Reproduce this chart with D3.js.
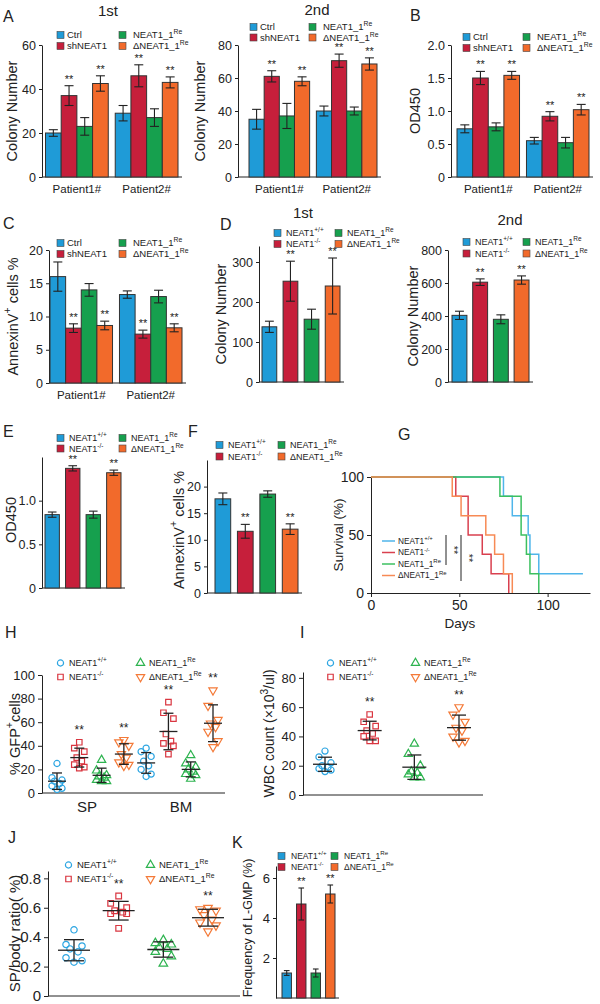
<!DOCTYPE html>
<html><head><meta charset="utf-8">
<script src="https://cdn.jsdelivr.net/npm/d3@7"></script>
<style>
body{margin:0;background:#fff}
svg{font-family:"Liberation Sans",Arial,sans-serif}
</style></head><body>
<svg id="fig" width="600" height="1004"></svg>
<script>
// ---------- data ----------
const patients = ['Patient1#', 'Patient2#'];
const shGroups = ['Ctrl', 'shNEAT1', 'NEAT1_1^{Re}', 'ΔNEAT1_1^{Re}'];
const koGroups = ['NEAT1^{+/+}', 'NEAT1^{-/-}', 'NEAT1_1^{Re}', 'ΔNEAT1_1^{Re}'];

const colony1stMean = [[20, 37, 23, 42.5], [29, 46, 27, 43]];
const colony1stErr = [[1.5, 4.5, 4, 3.5], [3.5, 5, 4, 2.5]];
const colony2ndMean = [[35, 61, 37, 58], [40, 70.5, 40, 68.5]];
const colony2ndErr = [[6, 3.4, 7.6, 2.7], [3, 4, 2.4, 3.7]];
const odMean = [[0.73, 1.5, 0.76, 1.54], [0.55, 0.92, 0.52, 1.02]];
const odErr = [[0.06, 0.1, 0.06, 0.06], [0.05, 0.07, 0.08, 0.08]];
const annexinMean = [[16, 8.25, 14, 8.65], [13.3, 7.35, 13, 8.3]];
const annexinErr = [[2.2, 0.65, 0.95, 0.65], [0.55, 0.6, 0.95, 0.6]];
const sigPatient = [[false, true, false, true], [false, true, false, true]];

const koColony1stMean = [138, 252, 157, 240];
const koColony1stErr = [14, 50, 25, 70];
const koColony2ndMean = [404, 605, 380, 618];
const koColony2ndErr = [25, 20, 27, 25];
const koOdMean = [0.84, 1.37, 0.84, 1.32];
const koOdErr = [0.03, 0.03, 0.04, 0.03];
const koAnnexinMean = [17.7, 11.6, 18.6, 12.0];
const koAnnexinErr = [1.1, 1.3, 0.6, 1.0];
const lgmpMean = [1.25, 4.7, 1.25, 5.2];
const lgmpErr = [0.12, 0.8, 0.2, 0.45];
const sigKo = [false, true, false, true];

// survival steps: [day, % surviving after that day]
const survWT = [[0, 100], [75, 83.3], [80, 66.7], [89, 50], [90, 33.3], [95, 16.7], [120, 16.7]];
const survKO = [[0, 100], [48, 83.3], [55, 50], [63, 33.3], [68, 16.7], [78, 0]];
const survRe = [[0, 100], [73, 83.3], [85, 50], [88, 33.3], [90, 16.7], [95, 0]];
const survDelta = [[0, 100], [46, 83.3], [51, 66.7], [65, 50], [70, 33.3], [75, 16.7], [80, 0]];
const survTicks = [0, 50, 100];

const gfpSP = [
  [25, 13, 11, 10, 8, 6, 4, 3],
  [43, 38, 35, 30, 27, 24, 22, 21],
  [28, 19, 15, 14, 13, 11, 10, 10],
  [45, 43, 40, 33, 30, 26, 24, 23]
];
const gfpBM = [
  [38, 35, 31, 27, 23, 20, 16, 14],
  [77, 68, 63, 50, 44, 42, 40, 33],
  [32, 25, 22, 20, 18, 16, 15, 12],
  [87, 74, 62, 59, 56, 52, 44, 39]
];
const wbc = [
  [30, 26, 22, 20, 19, 18, 17, 16],
  [55, 50, 47, 44, 42, 40, 37, 37],
  [35, 28, 20, 16, 15, 14, 12, 12],
  [60, 55, 50, 46, 44, 40, 36, 37]
];
const spRatio = [
  [0.45, 0.35, 0.34, 0.32, 0.30, 0.26, 0.24, 0.23],
  [0.68, 0.63, 0.60, 0.58, 0.57, 0.56, 0.56, 0.46],
  [0.38, 0.36, 0.35, 0.33, 0.32, 0.30, 0.27, 0.22],
  [0.60, 0.59, 0.58, 0.55, 0.52, 0.50, 0.48, 0.44]
];

// ---------- style ----------
const barColors = ['#1f9bd7', '#c61f3b', '#16a04e', '#f26a2b'];
const dotColors = ['#2ea6e2', '#d93640', '#2db34f', '#f47a38'];
const lineColors = ['#4fb5ea', '#d9404f', '#3cc060', '#f78a55'];
const shapes = [d3.symbolCircle, d3.symbolSquare, d3.symbolTriangle, d3.symbolTriangle];
const ink = '#222';
const svg = d3.select('#fig');

function rich(t, str, fs) {
  const parts = str.split(/(\^\{[^}]*\})/).filter(s => s);
  let up = 0;
  parts.forEach(p => {
    const sup = p.startsWith('^{');
    const s = t.append('tspan').text(sup ? p.slice(2, -1) : p);
    if (sup) { s.attr('font-size', fs * 0.72).attr('dy', -fs * 0.45); up = fs * 0.45; }
    else if (up) { s.attr('dy', up); up = 0; }
  });
  return t;
}

function text(x, y, str, fs, anchor, rotate) {
  const t = svg.append('text').attr('font-size', fs).attr('fill', ink)
    .attr('text-anchor', anchor || 'start');
  if (rotate) t.attr('transform', `translate(${x},${y}) rotate(${rotate})`);
  else t.attr('x', x).attr('y', y);
  return rich(t, str, fs);
}

function leftAxis(x0, y, ticks, fmt, fs, tick) {
  const ax = svg.append('g').attr('transform', `translate(${x0},0)`)
    .call(d3.axisLeft(y).tickValues(ticks).tickFormat(fmt).tickSize(tick || 3).tickSizeOuter(0));
  ax.attr('font-family', null).attr('font-size', fs);
  ax.select('.domain').attr('stroke', ink);
  ax.selectAll('.tick line').attr('stroke', ink);
  ax.selectAll('.tick text').attr('fill', ink);
  return ax;
}

function baseLine(x0, x1, yv) {
  svg.append('line').attr('x1', x0).attr('x2', x1).attr('y1', yv).attr('y2', yv)
    .attr('stroke', ink).attr('stroke-width', 1);
}

function legend(x, y, labels, opt) {
  labels.forEach((lab, i) => {
    const col = Math.floor(i / 2), row = i % 2;
    const lx = x + col * opt.colGap, ly = y + row * opt.rowGap;
    if (opt.kind === 'box') {
      svg.append('rect').attr('x', lx).attr('y', ly - 3.5).attr('width', 7).attr('height', 7)
        .attr('fill', barColors[i]).attr('stroke', '#444').attr('stroke-width', 0.6);
    } else {
      symbol(lx + 3.5, ly, i, opt.sym || 34);
    }
    text(lx + opt.textGap + (col ? opt.col2Extra || 0 : 0), ly + opt.fs * 0.36, lab, opt.fs);
  });
}

function legendColumn(x, y, labels, opt) {
  labels.forEach((lab, i) => {
    const ly = y + i * opt.rowGap;
    svg.append('line').attr('x1', x).attr('x2', x + 13).attr('y1', ly).attr('y2', ly)
      .attr('stroke', lineColors[i]).attr('stroke-width', 1.5);
    text(x + 16, ly + opt.fs * 0.36, lab, opt.fs);
  });
}

function symbol(cx, cy, i, size) {
  svg.append('path').attr('d', d3.symbol(shapes[i], size)())
    .attr('transform', `translate(${cx},${cy}) rotate(${i === 3 ? 180 : 0})`)
    .attr('fill', 'none').attr('stroke', dotColors[i]).attr('stroke-width', 1.2);
}

function bars(items, y, bw) {
  items.forEach(d => {
    svg.append('rect').attr('x', d.x).attr('y', y(d.m)).attr('width', bw)
      .attr('height', y(0) - y(d.m)).attr('fill', barColors[d.c])
      .attr('stroke', '#333').attr('stroke-width', 1);
    const cx = d.x + bw / 2, cap = Math.min(bw * 0.3, 4.5);
    const top = y(d.m + d.e), bot = y(d.m - d.e);
    const eb = svg.append('g').attr('stroke', ink).attr('stroke-width', 1.1);
    eb.append('line').attr('x1', cx).attr('x2', cx).attr('y1', top).attr('y2', bot);
    eb.append('line').attr('x1', cx - cap).attr('x2', cx + cap).attr('y1', top).attr('y2', top);
    eb.append('line').attr('x1', cx - cap).attr('x2', cx + cap).attr('y1', bot).attr('y2', bot);
    if (d.s) text(cx, top - 3, '**', 11, 'middle');
  });
}

function patientBars(p) {
  const y = d3.scaleLinear().domain(p.domain).range([p.y0, p.y1]);
  const xo = d3.scaleBand().domain(patients).range([p.bx0, p.bx1]).paddingInner(p.gap);
  const xi = d3.scaleBand().domain(d3.range(4)).range([0, xo.bandwidth()]);
  leftAxis(p.ax, y, p.ticks, p.fmt, p.fs);
  baseLine(p.ax, p.bx1 + 4, y(0));
  const items = patients.flatMap((pt, pi) => d3.range(4).map(ci => ({
    x: xo(pt) + xi(ci), m: p.mean[pi][ci], e: p.err[pi][ci], c: ci, s: sigPatient[pi][ci]
  })));
  bars(items, y, xi.bandwidth());
  patients.forEach(pt => text(xo(pt) + xo.bandwidth() / 2, y(0) + 16, pt, 11.5, 'middle'));
  text(p.lx, (p.y0 + p.y1) / 2, p.label, 14.5, 'middle', -90);
}

function koBars(p) {
  const y = d3.scaleLinear().domain(p.domain).range([p.y0, p.y1]);
  const x = d3.scaleBand().domain(d3.range(4)).range([p.bx0, p.bx1]).paddingInner(p.pad);
  leftAxis(p.ax, y, p.ticks, p.fmt, p.fs);
  baseLine(p.ax, p.bx1 + 4, y(0));
  const items = d3.range(4).map(ci => ({ x: x(ci), m: p.mean[ci], e: p.err[ci], c: ci, s: sigKo[ci] }));
  bars(items, y, x.bandwidth());
  text(p.lx, p.ly || (p.y0 + p.y1) / 2, p.label, p.lfs || 14.5, 'middle', -90);
}

function scatter(p) {
  const y = d3.scaleLinear().domain(p.domain).range([p.y0, p.y1]);
  const x = d3.scalePoint().domain(d3.range(p.sets.length)).range([p.gx0, p.gx1]);
  leftAxis(p.ax, y, p.ticks, p.fmt, p.fs, 4);
  baseLine(p.ax, p.axEnd, y(p.domain[0]));
  const jitter = [0, -1, 1, -0.5, 0.5, -1, 1, 0];
  p.sets.forEach((vals, gi) => {
    const ci = gi % 4, cx = x(gi);
    const order = d3.range(vals.length).sort((a, b) => vals[b] - vals[a]);
    order.forEach((vi, rank) => symbol(cx + jitter[rank] * p.spread, y(vals[vi]), ci, p.sym));
    const m = d3.mean(vals), sd = d3.deviation(vals);
    const g = svg.append('g').attr('stroke', ink).attr('stroke-width', 1.3);
    g.append('line').attr('x1', cx - p.meanW).attr('x2', cx + p.meanW).attr('y1', y(m)).attr('y2', y(m));
    g.append('line').attr('x1', cx).attr('x2', cx).attr('y1', y(m + sd)).attr('y2', y(m - sd));
    [m + sd, m - sd].forEach(v => g.append('line').attr('x1', cx - p.capW).attr('x2', cx + p.capW)
      .attr('y1', y(v)).attr('y2', y(v)));
    if (ci === 1 || ci === 3) text(cx, y(d3.max(vals)) - 8, '**', 12, 'middle');
  });
  text(p.lx, (p.y0 + p.y1) / 2, p.label, p.lfs, 'middle', -90);
}

const fmt1 = d => d === 0 ? '0' : d3.format('.1f')(d);
const fmtInt = d3.format('d');

// ---------- panel A ----------
text(3, 22, 'A', 16);
text(108, 16, '1st', 15, 'middle');
legend(57, 35, shGroups, { kind: 'box', colGap: 62, rowGap: 11, textGap: 10, col2Extra: 4, fs: 9.5 });
patientBars({ domain: [0, 60], y0: 177, y1: 45, ax: 42, bx0: 45.5, bx1: 178, gap: 0.1,
  ticks: [0, 20, 40, 60], fmt: fmtInt, fs: 12.5, mean: colony1stMean, err: colony1stErr,
  label: 'Colony Number', lx: 17 });

text(317, 15, '2nd', 15, 'middle');
legend(250, 27, shGroups, { kind: 'box', colGap: 59, rowGap: 10.5, textGap: 10, col2Extra: 4, fs: 9.5 });
patientBars({ domain: [0, 80], y0: 177, y1: 45, ax: 238, bx0: 249, bx1: 377, gap: 0.1,
  ticks: [0, 20, 40, 60, 80], fmt: fmtInt, fs: 12.5, mean: colony2ndMean, err: colony2ndErr,
  label: 'Colony Number', lx: 205 });

// ---------- panel B ----------
text(410, 21, 'B', 16);
legend(463, 37, shGroups, { kind: 'box', colGap: 60, rowGap: 11, textGap: 10, col2Extra: 4, fs: 9.5 });
patientBars({ domain: [0, 2], y0: 177, y1: 45, ax: 451, bx0: 457, bx1: 589, gap: 0.1,
  ticks: [0, 0.5, 1, 1.5, 2], fmt: fmt1, fs: 12.5, mean: odMean, err: odErr,
  label: 'OD450', lx: 420 });

// ---------- panel C ----------
text(3, 229, 'C', 16);
legend(57, 243, shGroups, { kind: 'box', colGap: 62, rowGap: 11, textGap: 10, col2Extra: 4, fs: 9.5 });
patientBars({ domain: [0, 20], y0: 383, y1: 250, ax: 49, bx0: 50, bx1: 182, gap: 0.1,
  ticks: [0, 5, 10, 15, 20], fmt: fmtInt, fs: 12.5, mean: annexinMean, err: annexinErr,
  label: 'AnnexinV^{+} cells %', lx: 18 });

// ---------- panel D ----------
text(220, 230, 'D', 16);
text(303, 218, '1st', 15, 'middle');
legend(274, 233, koGroups, { kind: 'box', colGap: 61, rowGap: 11, textGap: 12, fs: 9 });
koBars({ domain: [0, 340], y0: 382, y1: 246, ax: 259, bx0: 262, bx1: 340, pad: 0.3,
  ticks: [0, 100, 200, 300], fmt: fmtInt, fs: 12.5, mean: koColony1stMean, err: koColony1stErr,
  label: 'Colony Number', lx: 226 });

text(510, 225, '2nd', 15, 'middle');
legend(463, 242, koGroups, { kind: 'box', colGap: 60, rowGap: 11.5, textGap: 12, fs: 9 });
koBars({ domain: [0, 800], y0: 382, y1: 250, ax: 448, bx0: 452, bx1: 529, pad: 0.28,
  ticks: [0, 200, 400, 600, 800], fmt: fmtInt, fs: 12.5, mean: koColony2ndMean, err: koColony2ndErr,
  label: 'Colony Number', lx: 418 });

// ---------- panel E ----------
text(3, 437, 'E', 16);
legend(57, 438, koGroups, { kind: 'box', colGap: 62, rowGap: 10.5, textGap: 12, fs: 9 });
koBars({ domain: [0, 1.5], y0: 588, y1: 457, ax: 42, bx0: 45, bx1: 121, pad: 0.3,
  ticks: [0, 0.5, 1], fmt: fmt1, fs: 12.5, mean: koOdMean, err: koOdErr,
  label: 'OD450', lx: 16, ly: 520 });

// ---------- panel F ----------
text(188, 437, 'F', 16);
legend(216, 445, koGroups, { kind: 'box', colGap: 62, rowGap: 11.5, textGap: 12, fs: 9 });
koBars({ domain: [0, 25], y0: 593, y1: 460, ax: 207, bx0: 215, bx1: 298, pad: 0.3,
  ticks: [0, 5, 10, 15, 20], fmt: fmtInt, fs: 12.5, mean: koAnnexinMean, err: koAnnexinErr,
  label: 'AnnexinV^{+} cells %', lx: 184, ly: 530 });

// ---------- panel G ----------
text(398, 440, 'G', 16);
{
  const x = d3.scaleLinear().domain([0, 124]).range([371, 590]);
  const y = d3.scaleLinear().domain([0, 100]).range([593, 477]);
  leftAxis(371, y, survTicks, fmtInt, 14, 4);
  const bx = svg.append('g').attr('transform', 'translate(0,593)')
    .call(d3.axisBottom(x).tickValues(survTicks).tickFormat(fmtInt).tickSize(4).tickSizeOuter(0));
  bx.attr('font-family', null).attr('font-size', 14);
  bx.select('.domain').attr('stroke', ink);
  bx.selectAll('.tick line').attr('stroke', ink);
  bx.selectAll('.tick text').attr('fill', ink);
  const line = d3.line().x(d => x(d[0])).y(d => y(d[1])).curve(d3.curveStepAfter);
  [survWT, survKO, survRe, survDelta].forEach((s, i) => {
    svg.append('path').attr('d', line(s)).attr('fill', 'none')
      .attr('stroke', lineColors[i]).attr('stroke-width', 1.5);
  });
  legendColumn(382, 541, koGroups, { rowGap: 11.5, fs: 8.3 });
  svg.append('line').attr('x1', 446).attr('x2', 446).attr('y1', 535).attr('y2', 565).attr('stroke', ink);
  svg.append('line').attr('x1', 461).attr('x2', 461).attr('y1', 535).attr('y2', 581).attr('stroke', ink);
  text(450, 550, '**', 11, 'middle', 90);
  text(465, 558, '**', 11, 'middle', 90);
  text(343, 535, 'Survival (%)', 13.5, 'middle', -90);
  text(460, 628, 'Days', 13.5, 'middle');
}

// ---------- panel H ----------
text(5, 638, 'H', 16);
legend(57, 663, koGroups, { kind: 'sym', colGap: 80, rowGap: 14, textGap: 12, fs: 9, sym: 30 });
scatter({ sets: gfpSP.concat(gfpBM), domain: [0, 100], y0: 793, y1: 675, ax: 42, axEnd: 225,
  gx0: 57, gx1: 213, ticks: [0, 20, 40, 60, 80, 100], fmt: fmtInt, fs: 13,
  spread: 5, meanW: 9, capW: 5, sym: 30, label: '% GFP^{+}cells', lx: 20, lfs: 14.5 });
text(87, 812, 'SP', 15, 'middle');
text(181, 812, 'BM', 15, 'middle');

// ---------- panel I ----------
text(300, 638, 'I', 16);
legend(327, 663, koGroups, { kind: 'sym', colGap: 85, rowGap: 14, textGap: 12, fs: 9, sym: 30 });
scatter({ sets: wbc, domain: [0, 84], y0: 795, y1: 672, ax: 303, axEnd: 483,
  gx0: 325, gx1: 459, ticks: [0, 20, 40, 60, 80], fmt: fmtInt, fs: 13,
  spread: 6, meanW: 12, capW: 7, sym: 30, label: 'WBC count (×10^{3}/ul)', lx: 274, lfs: 14 });

// ---------- panel J ----------
text(8, 843, 'J', 16);
legend(65, 865, koGroups, { kind: 'sym', colGap: 82, rowGap: 14, textGap: 12, fs: 9.5, sym: 30 });
scatter({ sets: spRatio, domain: [0, 0.85], y0: 996, y1: 871, ax: 48, axEnd: 240,
  gx0: 74, gx1: 208, ticks: [0, 0.2, 0.4, 0.6, 0.8], fmt: fmt1, fs: 15,
  spread: 8, meanW: 16, capW: 10, sym: 32, label: 'SP/body ratio( %)', lx: 20, lfs: 15 });

// ---------- panel K ----------
text(232, 848, 'K', 16);
legend(278, 856, koGroups, { kind: 'box', colGap: 53, rowGap: 11, textGap: 13, fs: 8.5 });
koBars({ domain: [0, 6.6], y0: 998, y1: 866, ax: 276, bx0: 282, bx1: 335, pad: 0.35,
  ticks: [2, 4, 6], fmt: fmtInt, fs: 13, mean: lgmpMean, err: lgmpErr,
  label: 'Frequency of L-GMP (%)', lx: 252, ly: 928, lfs: 12.5 });
</script>
</body></html>
